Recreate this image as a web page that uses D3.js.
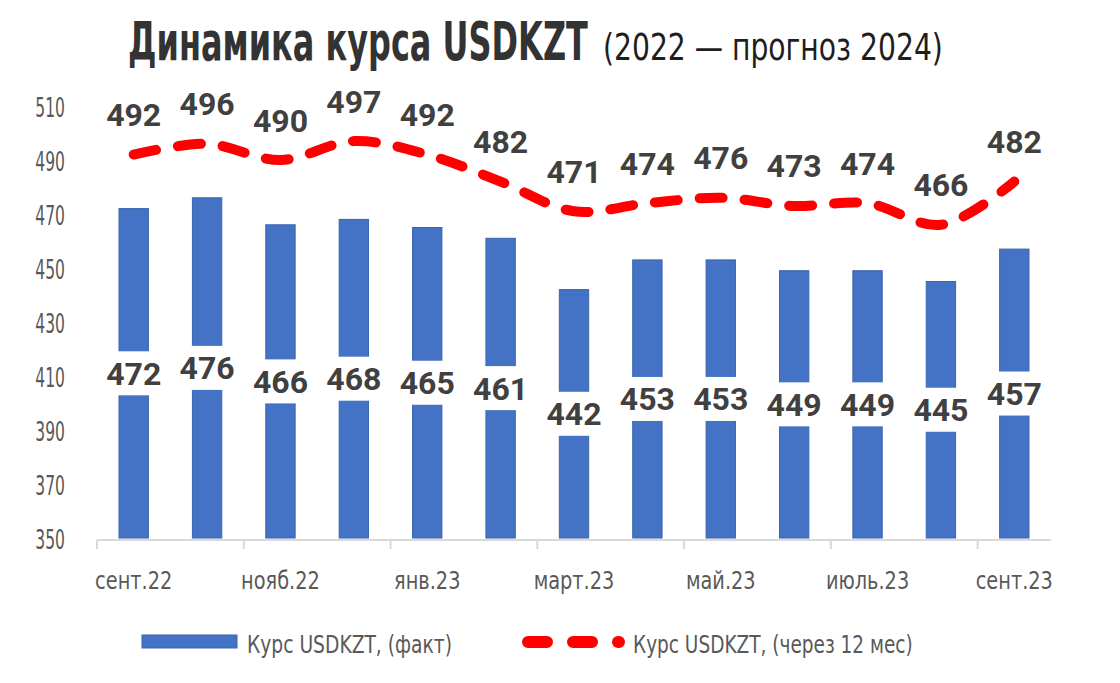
<!DOCTYPE html>
<html><head><meta charset="utf-8">
<script src="https://cdn.jsdelivr.net/npm/d3@7"></script>
<style>
body{margin:0;background:#fff;}
svg{display:block;}
.cond{font-family:"DejaVu Sans Condensed","DejaVu Sans",sans-serif;}
</style></head>
<body>
<svg id="chart" width="1120" height="683"></svg>
<script>
const categories = ["сент.22","окт.22","нояб.22","дек.22","янв.23","февр.23","март.23","апр.23","май.23","июнь.23","июль.23","авг.23","сент.23"];
const factValues = [472,476,466,468,465,461,442,453,453,449,449,445,457];
const forecastValues = [492,496,490,497,492,482,471,474,476,473,474,466,482];
const yTicks = [350,370,390,410,430,450,470,490,510];
const shownLabels = ["сент.22","нояб.22","янв.23","март.23","май.23","июль.23","сент.23"];
const titleBold = "Динамика курса USDKZT";
const titleRest = "(2022 — прогноз 2024)";
const legendFact = "Курс USDKZT, (факт)";
const legendForecast = "Курс USDKZT, (через 12 мес)";

const svg = d3.select("#chart");
const x = d3.scaleBand().domain(categories).range([97, 1051]).paddingInner(0.6).paddingOuter(0.3);
const y = d3.scaleLinear().domain([350, 510]).range([538, 106]);

// condensed text: horizontally scaled by transform around its anchor point
function condText(parent, px, py, str, opts) {
  const t = parent.append("text").attr("class","cond").attr("x",0).attr("y",0)
    .attr("dy", opts.dy || null)
    .attr("text-anchor", opts.anchor || "start")
    .attr("font-size", opts.size).attr("font-weight", opts.weight || "normal")
    .attr("fill", opts.fill).text(str);
  const w = t.node().getComputedTextLength();
  const s = opts.width ? opts.width / w : opts.factor;
  t.attr("transform", `translate(${px},${py}) scale(${s},1)`);
  return t;
}

// title
condText(svg, 128, 60, titleBold, {size:54, weight:"bold", fill:"#333333", width:460});
condText(svg, 603, 60, titleRest, {size:38, fill:"#1e1e1e", width:340});

// y axis labels
const yG = svg.append("g");
yTicks.forEach(v => condText(yG, 65, y(v) + 1, v, {size:27, fill:"#595959", anchor:"end", dy:"0.36em", factor:0.64}));

// bars
const blue = "#4472C4";
svg.append("g").selectAll("rect").data(factValues).join("rect")
  .attr("x", (d,i) => x(categories[i])).attr("width", x.bandwidth())
  .attr("y", d => y(d)).attr("height", d => y(350) - y(d))
  .attr("fill", blue).attr("stroke","#3a64b0").attr("stroke-width",1);

// x axis
const xAxisG = svg.append("g");
xAxisG.append("line").attr("x1", 97).attr("x2", 1051).attr("y1", 540).attr("y2", 540)
  .attr("stroke","#d9d9d9").attr("stroke-width",2);
const step = x.step();
const tickIdx = d3.range(0, categories.length, 2);
xAxisG.selectAll("line.tick").data(tickIdx).join("line").attr("class","tick")
  .attr("x1", i => x(categories[i]) + x.bandwidth()/2 - step/2)
  .attr("x2", i => x(categories[i]) + x.bandwidth()/2 - step/2)
  .attr("y1", 540).attr("y2", 549).attr("stroke","#d9d9d9").attr("stroke-width",2);
shownLabels.forEach(c => condText(xAxisG, x(c) + x.bandwidth()/2, 580, c,
  {size:25, fill:"#595959", anchor:"middle", dy:"0.36em", factor:0.86}));

// bar labels with white background
const lblFont = "Roboto, 'DejaVu Sans', sans-serif";
const bl = svg.append("g").selectAll("g").data(factValues).join("g")
  .attr("transform", (d,i) => `translate(${x(categories[i]) + x.bandwidth()/2},${(y(d)+y(350))/2})`);
bl.append("rect").attr("x",-32).attr("width",64).attr("y",-22).attr("height",44).attr("fill","#fff");
bl.append("text").attr("text-anchor","middle").attr("dy","0.36em")
  .attr("font-family", lblFont).attr("font-weight","bold").attr("font-size",32)
  .attr("fill","#404040").text(d => d);

// forecast line
const line = d3.line().x((d,i) => x(categories[i]) + x.bandwidth()/2).y(d => y(d)).curve(d3.curveCatmullRom.alpha(0.5));
svg.append("path").attr("d", line(forecastValues)).attr("fill","none")
  .attr("stroke","#FF0000").attr("stroke-width",10).attr("stroke-linecap","round")
  .attr("stroke-dasharray","23,22");

svg.append("g").selectAll("text").data(forecastValues).join("text")
  .attr("x",(d,i) => x(categories[i]) + x.bandwidth()/2).attr("y", d => y(d) - 40).attr("dy","0.36em")
  .attr("text-anchor","middle").attr("font-family", lblFont).attr("font-weight","bold")
  .attr("font-size",32).attr("fill","#404040").text(d => d);

// legend
const lg = svg.append("g");
lg.append("rect").attr("x",142).attr("y",635).attr("width",95).attr("height",13).attr("fill",blue).attr("stroke","#3a64b0");
condText(lg, 247, 644, legendFact, {size:25, fill:"#595959", dy:"0.36em", width:205});
lg.append("line").attr("x1",528).attr("x2",619).attr("y1",642).attr("y2",642)
  .attr("stroke","#FF0000").attr("stroke-width",12).attr("stroke-linecap","round").attr("stroke-dasharray","19,26");
condText(lg, 633, 644, legendForecast, {size:25, fill:"#595959", dy:"0.36em", width:280});
</script>
</body></html>
